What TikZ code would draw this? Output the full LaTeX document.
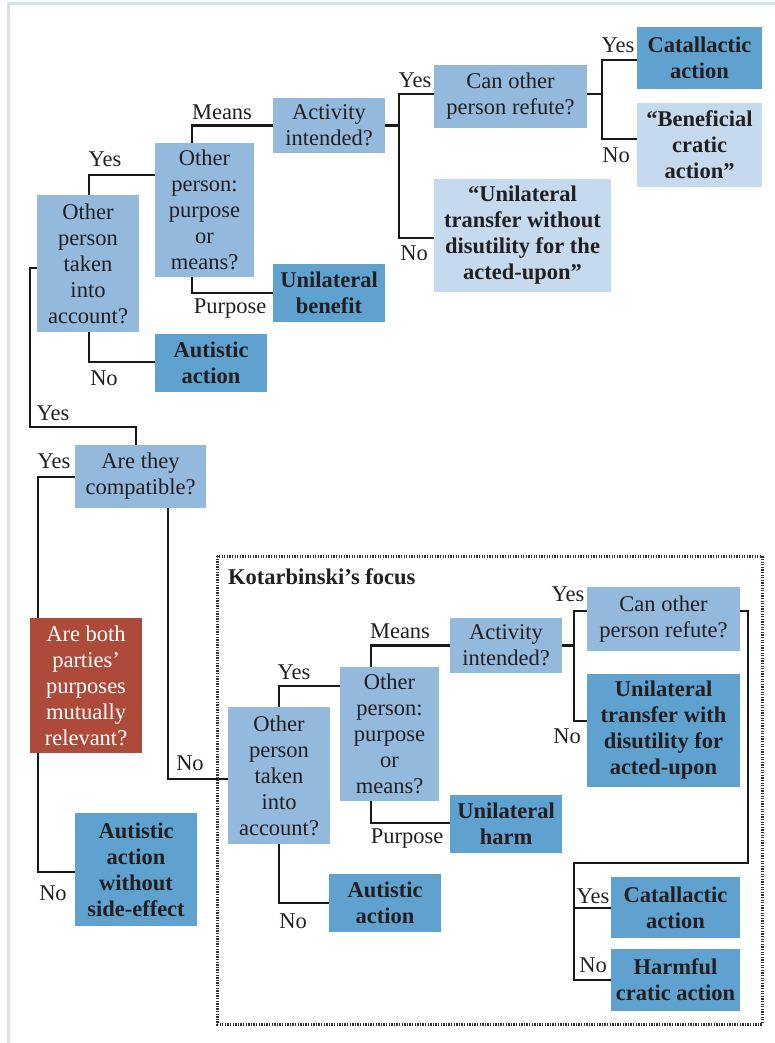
\documentclass[tikz,border=0pt]{standalone}
\usepackage{fontspec}
\setmainfont{Liberation Serif}
\definecolor{txt}{HTML}{231F20}
\definecolor{qblue}{HTML}{93B9DC}
\definecolor{rblue}{HTML}{5FA2D0}
\definecolor{lblue}{HTML}{C5DAEE}
\definecolor{redc}{HTML}{AD4A3A}
\definecolor{frame}{HTML}{D5E3F1}
\tikzset{
  box/.style={inner sep=0pt, align=center, text=txt, font=\fontsize{22.5}{26}\selectfont},
  qbox/.style={box, fill=qblue},
  rbox/.style={box, fill=rblue, font=\bfseries\fontsize{22.5}{26}\selectfont},
  lbox/.style={box, fill=lblue, font=\bfseries\fontsize{22.5}{26}\selectfont},
  redbox/.style={box, fill=redc, text=white},
  sz/.style 2 args={minimum width=#1, minimum height=#2},
  lbl/.style={inner sep=0pt, text=txt, font=\fontsize{22.5}{26}\selectfont},
  conn/.style={line width=2.6pt, draw=black!90},
  kframe/.style={line width=3pt, draw=black!80, dash pattern=on 1.3pt off 1.3pt}
}
\begin{document}
\begin{tikzpicture}[x=1pt,y=-1pt]
\useasboundingbox (0,0) rectangle (775,1043);
% outer light frame
\draw[frame, line width=3pt] (8,1043) -- (8,3.5) -- (775,3.5);
% Kotarbinski frame
\draw[kframe] (217,556) rectangle (762,1024);
\node[anchor=west, inner sep=0pt, text=txt, font=\bfseries\fontsize{22.5}{26}\selectfont] (kot) at (228,577) {Kotarbinski’s focus};

% ---- top part ----
\node[qbox, sz={102}{137}] (t1) at (88,263.5) {Other\\person\\taken\\into\\account?};
\node[qbox, sz={99}{134}] (pm1) at (204.5,210) {Other\\person:\\purpose\\or\\means?};
\node[qbox, sz={112}{55}] (ai1) at (329,125.5) {Activity\\intended?};
\node[rbox, sz={112}{58}] (ub) at (329,293) {Unilateral\\benefit};
\node[rbox, sz={112}{58}] (aa1) at (211,363) {Autistic\\action};
\node[qbox, sz={153}{63}] (co1) at (510.5,96.5) {Can other\\person refute?};
\node[lbox, sz={177}{113}] (utwo) at (522.5,235.5) {“Unilateral\\transfer without\\disutility for the\\acted-upon”};
\node[rbox, sz={125}{62}] (ca1) at (699.5,58) {Catallactic\\action};
\node[lbox, sz={125}{84}] (bca) at (699.5,145) {“Beneficial\\cratic\\action”};

% ---- middle / left ----
\node[qbox, sz={131}{63}] (comp) at (140.5,476.5) {Are they\\compatible?};
\node[redbox, sz={112}{135}] (red) at (86,685.5) {Are both\\parties’\\purposes\\mutually\\relevant?};
\node[rbox, sz={122}{113}] (aws) at (136,869.5) {Autistic\\action\\without\\side-effect};

% ---- Kotarbinski part ----
\node[qbox, sz={102}{137}] (t2) at (279,775.5) {Other\\person\\taken\\into\\account?};
\node[qbox, sz={99}{134}] (pm2) at (389.5,734) {Other\\person:\\purpose\\or\\means?};
\node[qbox, sz={112}{55}] (ai2) at (506,645.5) {Activity\\intended?};
\node[rbox, sz={112}{58}] (uh) at (506,824) {Unilateral\\harm};
\node[rbox, sz={112}{58}] (aa2) at (385,903) {Autistic\\action};
\node[qbox, sz={153}{64}] (co2) at (663.5,619) {Can other\\person refute?};
\node[rbox, sz={153}{113}] (utw) at (663.5,730.5) {Unilateral\\transfer with\\disutility for\\acted-upon};
\node[rbox, sz={129}{61}] (ca2) at (675.5,907.5) {Catallactic\\action};
\node[rbox, sz={129}{62}] (hca) at (675.5,980) {Harmful\\cratic action};

% junctions
\coordinate (j1) at (399,125.5);
\coordinate (j2) at (602,94);
\coordinate (j3) at (574,645.5);
\coordinate (j4) at (748,863);
\coordinate (j5) at (574,908);

% ---- connectors top ----
\draw[conn] (t1.north -| 89,0) |- (pm1.west |- 0,175);
\draw[conn] (pm1.north -| 192,0) |- (ai1.west);
\draw[conn] (pm1.south -| 192,0) |- (ub.west);
\draw[conn] (t1.south -| 89,0) |- (aa1.west |- 0,362);
\draw[conn] (ai1.east) -- (j1);
\draw[conn] (co1.west |- 0,94) -| (j1) |- (utwo.west |- 0,238);
\draw[conn] (co1.east |- 0,94) -- (j2);
\draw[conn] (ca1.west |- 0,60) -| (j2) |- (bca.west |- 0,139);
\draw[conn] (t1.west |- 0,268) -| (30,427) -| (comp.north -| 136,0);
\draw[conn] (comp.west |- 0,477) -| (red.north -| 38,0);
\draw[conn] (red.south -| 38,0) |- (aws.west |- 0,872);
\draw[conn] (comp.south -| 168,0) |- (t2.west |- 0,779);

% ---- connectors Kotarbinski ----
\draw[conn] (t2.north -| 279,0) |- (pm2.west |- 0,686);
\draw[conn] (pm2.north -| 371,0) |- (ai2.west);
\draw[conn] (pm2.south -| 371,0) |- (uh.west |- 0,823);
\draw[conn] (t2.south -| 279,0) |- (aa2.west);
\draw[conn] (ai2.east) -- (j3);
\draw[conn] (co2.west |- 0,611) -| (j3) |- (utw.west |- 0,721);
\draw[conn] (co2.east |- 0,611) -| (j4) -| (j5) |- (hca.west);
\draw[conn] (j5) -- (ca2.west |- 0,908);

% ---- labels ----
\node[lbl] (l1) at (105,159) {Yes};
\node[lbl] (l2) at (222,112) {Means};
\node[lbl] (l3) at (230,309) {Purpose};
\node[lbl] (l4) at (104,378) {No};
\node[lbl] (l5) at (415,80) {Yes};
\node[lbl] (l6) at (414,253) {No};
\node[lbl] (l7) at (618,45) {Yes};
\node[lbl] (l8) at (616,155) {No};
\node[lbl] (l9) at (53,413) {Yes};
\node[lbl] (l10) at (54,461) {Yes};
\node[lbl] (l11) at (53,893) {No};
\node[lbl] (l12) at (190,763) {No};
\node[lbl] (l13) at (294,672) {Yes};
\node[lbl] (l14) at (400,631) {Means};
\node[lbl] (l15) at (407,839) {Purpose};
\node[lbl] (l16) at (293,921) {No};
\node[lbl] (l17) at (568,594) {Yes};
\node[lbl] (l18) at (567,736) {No};
\node[lbl] (l19) at (593,896) {Yes};
\node[lbl] (l20) at (593,965) {No};
\end{tikzpicture}
\end{document}
